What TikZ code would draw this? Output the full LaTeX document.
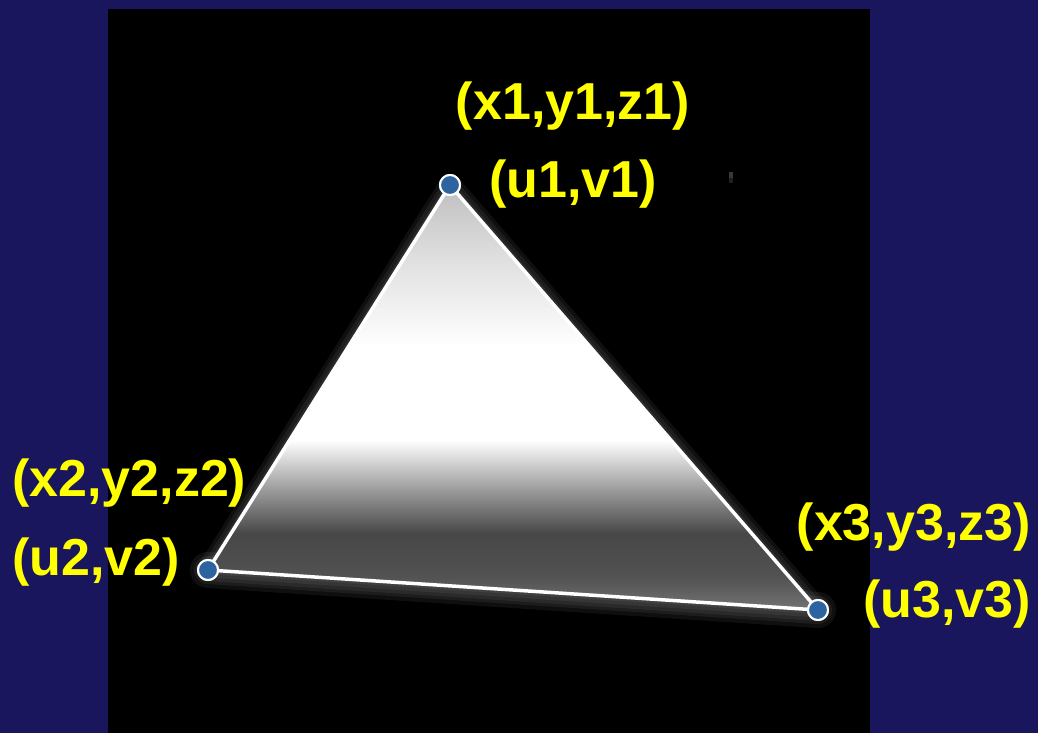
\documentclass[tikz,border=0pt]{standalone}
\usepackage{fontspec}
\setmainfont{Liberation Sans}
\pgfdeclareverticalshading{trishade}{100bp}{
  color(0bp)=(black!55);
  color(25bp)=(black!55);
  color(29bp)=(black!68);
  color(34bp)=(black!72);
  color(39bp)=(black!40);
  color(45bp)=(white);
  color(56bp)=(white);
  color(66bp)=(black!12);
  color(75bp)=(black!25);
  color(100bp)=(black!25)}
\definecolor{navy}{RGB}{25,22,94}
\definecolor{dotblue}{RGB}{45,100,160}
\definecolor{labyellow}{RGB}{255,255,0}
\tikzset{
  vtx/.style={circle,fill=dotblue,draw=white,line width=2pt,minimum size=20pt,inner sep=0pt},
  edge/.style={draw=white,line width=3.5pt},
  glow/.style={draw=white,opacity=0.06,line join=round},
  lab/.style={text=labyellow,font=\fontsize{52}{60}\selectfont\bfseries,inner sep=0pt}
}
\begin{document}
\begin{tikzpicture}[x=1pt,y=-1pt]
\useasboundingbox (0,0) rectangle (1038,733);
\fill[navy] (0,0) rectangle (1038,733);
\fill[black] (108,9) rectangle (870,733);
% stray mark
\fill[black!78] (729,172) rectangle (733,178);
\fill[black!88] (729,178) rectangle (733,183);
% glow
\coordinate (A) at (450,185);
\coordinate (B) at (208,570);
\coordinate (C) at (818,610);
\draw[glow,line width=22pt] (A)--(B)--(C)--cycle;
\draw[glow,line width=15pt] (A)--(B)--(C)--cycle;
\draw[glow,line width=8pt] (A)--(B)--(C)--cycle;
\draw[glow,line width=36pt,line cap=round] (B)--(C);
\draw[glow,line width=28pt,line cap=round] (B)--(C);
\shade[shading=trishade] (A)--(B)--(C)--cycle;
% vertices
\node[vtx] (v1) at (A) {};
\node[vtx] (v2) at (B) {};
\node[vtx] (v3) at (C) {};
\draw[edge] (v1.center)--(v2.center);
\draw[edge] (v2.center)--(v3.center);
\draw[edge] (v3.center)--(v1.center);
\node[vtx] at (A) {};
\node[vtx] at (B) {};
\node[vtx] at (C) {};
% labels
\node[lab] (l1a) at (573,106) {(x1,y1,z1)};
\node[lab] (l1b) at (573,184) {(u1,v1)};
\node[lab,anchor=west] (l2a) at (12,483) {(x2,y2,z2)};
\node[lab,anchor=west] (l2b) at (12,562) {(u2,v2)};
\node[lab,anchor=east] (l3a) at (1031,527) {(x3,y3,z3)};
\node[lab,anchor=east] (l3b) at (1031,604) {(u3,v3)};
\end{tikzpicture}
\end{document}
